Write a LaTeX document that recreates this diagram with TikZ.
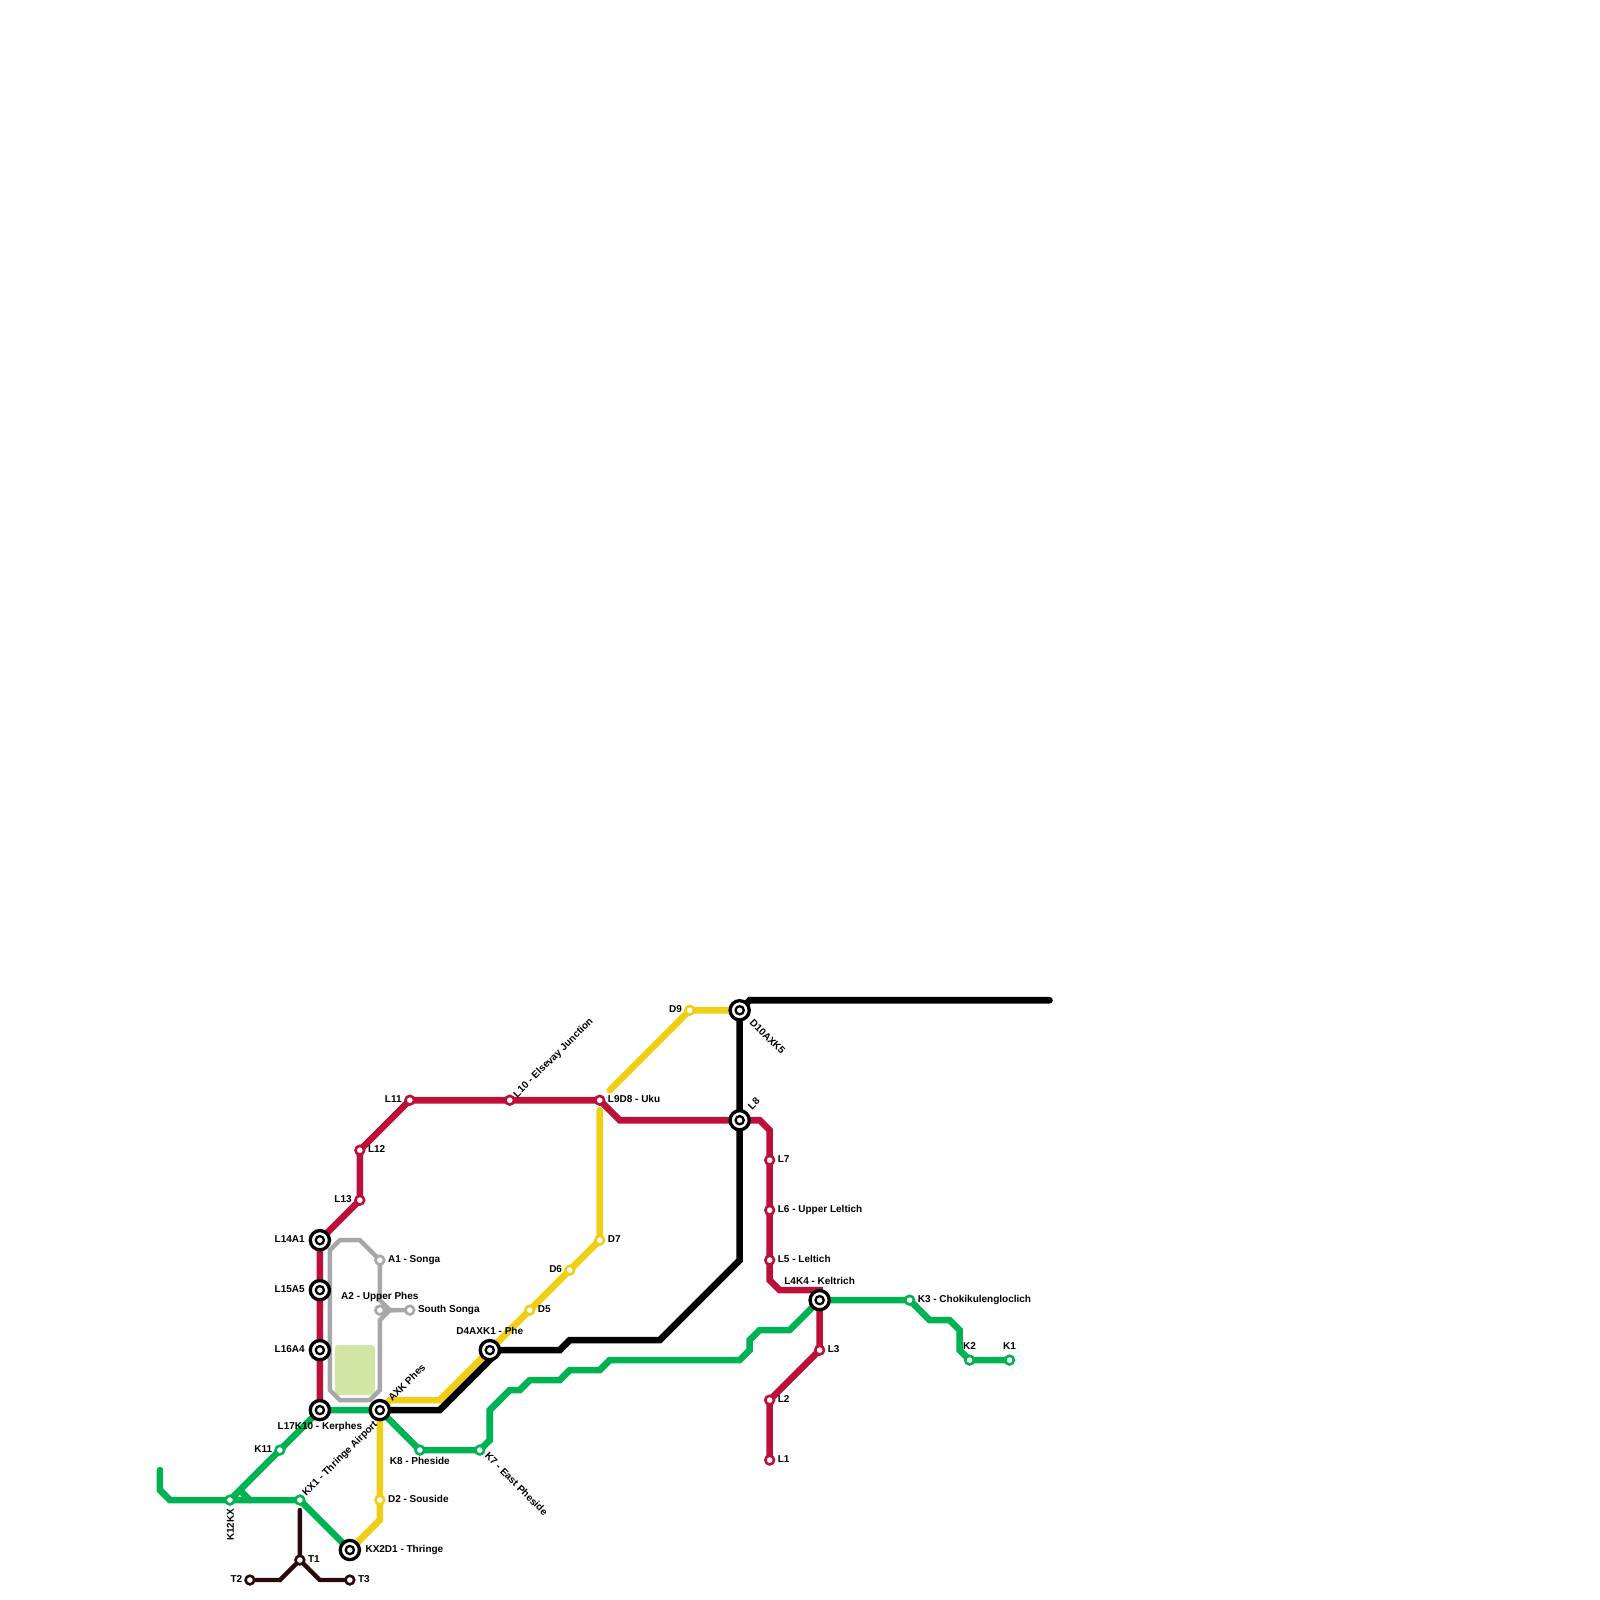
\documentclass[tikz,border=0pt]{standalone}
\usepackage{fontspec}
\setmainfont{Liberation Sans}
\usetikzlibrary{backgrounds}
\definecolor{linered}{HTML}{BD1038}
\definecolor{linegreen}{HTML}{00B251}
\definecolor{lineyellow}{HTML}{F0CE15}
\definecolor{linegrey}{HTML}{A7A7A7}
\definecolor{linebrown}{HTML}{2B0A0A}
\definecolor{parkgreen}{HTML}{D0E6A5}
\tikzset{
    halt/.style={circle,draw=#1,fill=white,line width=.26mm,minimum size=.87mm,inner sep=0pt},
    hub/.style={circle,draw=black,fill=white,line width=.33mm,minimum size=1.92mm,inner sep=0pt,
        path picture={\draw[black,line width=.23mm] (path picture bounding box.center) circle (.41mm);}},
    track/.style={line width=.66mm,line cap=round,line join=miter,#1},
    thintrack/.style={line width=.44mm,line cap=round,line join=miter,#1},
    stationname/.style={inner sep=0pt,yshift=.07mm,font=\bfseries\fontsize{2.845pt}{3.4pt}\selectfont,text=black},
}
\begin{document}
\begin{tikzpicture}[x=0.1mm,y=-0.1mm]
    \useasboundingbox (0,-0.7) rectangle (1600,1600);

    % Red line stations
    \node[halt=linered] (L1) at (770,1460) {};
    \node[halt=linered] (L2) at (770,1400) {};
    \node[halt=linered] (L3) at (820,1350) {};
    \node[hub] (L4K4) at (820,1300) {};
    \node[halt=linered] (L5) at (770,1260) {};
    \node[halt=linered] (L6) at (770,1210) {};
    \node[halt=linered] (L7) at (770,1160) {};
    \node[hub] (L8) at (740,1120) {};
    \node[halt=linered] (L9D8) at (600,1100) {};
    \node[halt=linered] (L10) at (510,1100) {};
    \node[halt=linered] (L11) at (410,1100) {};
    \node[halt=linered] (L12) at (360,1150) {};
    \node[halt=linered] (L13) at (360,1200) {};
    \node[hub] (L14A1) at (320,1240) {};
    \node[hub] (L15A5) at (320,1290) {};
    \node[hub] (L16A4) at (320,1350) {};
    \node[hub] (L17K10) at (320,1410) {};

    % Green line stations
    \node[halt=linegreen] (K1) at (1010,1360) {};
    \node[halt=linegreen] (K2) at (970,1360) {};
    \node[halt=linegreen] (K3) at (910,1300) {};
    \node[halt=linegreen] (K7) at (480,1450) {};
    \node[halt=linegreen] (K8) at (420,1450) {};
    \node[halt=linegreen] (K11) at (280,1450) {};
    \node[halt=linegreen] (K12KX) at (230,1500) {};
    \node[halt=linegreen] (KX1) at (300,1500) {};
    \node[hub] (KX2D1) at (350,1550) {};
    \node[hub] (AXK) at (380,1410) {};

    % Yellow and black line stations
    \node[hub] (D4AXK1) at (490,1350) {};
    \node[halt=lineyellow] (D2) at (380,1500) {};
    \node[halt=lineyellow] (D5) at (530,1310) {};
    \node[halt=lineyellow] (D6) at (570,1270) {};
    \node[halt=lineyellow] (D7) at (600,1240) {};
    \node[halt=lineyellow] (D9) at (690,1010) {};
    \node[hub] (D10AXK5) at (740,1010) {};

    % Grey line stations
    \node[halt=linegrey] (A1) at (380,1260) {};
    \node[halt=linegrey] (A2) at (380,1310) {};
    \node[halt=linegrey] (SouthSonga) at (410,1310) {};

    % Brown line stations
    \node[halt=linebrown] (T1) at (300,1560) {};
    \node[halt=linebrown] (T2) at (250,1580) {};
    \node[halt=linebrown] (T3) at (350,1580) {};

    % Free ends of the lines
    \coordinate (blackend) at (1050,1000);
    \coordinate (yellowend) at (610,1090);
    \coordinate (yellowstart) at (600,1110);
    \coordinate (greenend) at (160,1470);
    \coordinate (brownend) at (300,1510);

    \begin{scope}[on background layer]
        % Park
        \fill[parkgreen,rounded corners=.3mm] (335,1345) rectangle (375,1395);

        % Grey line
        \draw[thintrack=linegrey] (A1.center) -- ++(-20,-20) -- ++(-20,0) -- ++(-10,10) -- ++(0,140) -- ++(10,10) -- ++(30,0) -- ++(10,-10) -- ++(0,-70) -- ++(10,-10) -- (SouthSonga.center);
        \draw[thintrack=linegrey] (A1.center) -- ++(0,40) -- ++(10,10) -- (A2.center);

        % Brown line
        \draw[thintrack=linebrown] (brownend) -- (T1.center) -- ++(-20,20) -- (T2.center);
        \draw[thintrack=linebrown] (T1.center) -- ++(20,20) -- (T3.center);

        % Red line
        \draw[track=linered] (L1.center) -- (L2.center) -- (L3.center) -- (L4K4.center) -- ++(0,-10) -- ++(-40,0) -- ++(-10,-10) -- (L5.center) -- (L6.center) -- (L7.center) -- ++(0,-30) -- ++(-10,-10) -- (L8.center) -- ++(-120,0) -- (L9D8.center) -- (L10.center) -- (L11.center) -- (L12.center) -- (L13.center) -- (L14A1.center) -- (L15A5.center) -- (L16A4.center) -- (L17K10.center);

        % Yellow line
        \draw[track=lineyellow] (yellowend) -- (D9.center) -- (D10AXK5.center);
        \draw[track=lineyellow] (yellowstart) -- (D7.center) -- (D6.center) -- (D5.center) -- (D4AXK1.center) -- ++(-50,50) -- ++(-50,0) -- (AXK.center) -- (D2.center) -- ++(0,20) -- (KX2D1.center);

        % Green line
        \draw[track=linegreen] (K1.center) -- (K2.center) -- ++(-10,-10) -- ++(0,-20) -- ++(-10,-10) -- ++(-20,0) -- (K3.center) -- (L4K4.center) -- ++(-30,30) -- ++(-30,0) -- ++(-10,10) -- ++(0,10) -- ++(-10,10) -- ++(-130,0) -- ++(-10,10) -- ++(-30,0) -- ++(-10,10) -- ++(-30,0) -- ++(-10,10) -- ++(-10,0) -- ++(-20,20) -- ++(0,30) -- (K7.center) -- (K8.center) -- (AXK.center) -- (L17K10.center) -- (K11.center) -- (K12KX.center);
        \draw[track=linegreen] (greenend) -- ++(0,20) -- ++(10,10) -- (K12KX.center) -- (KX1.center) -- (KX2D1.center);
        \draw[track=linegreen] (K12KX.center) ++(10,-10) -- ++(10,10);

        % Black line
        \draw[track=black] (blackend) -- ++(-300,0) -- (D10AXK5.center) -- (L8.center) -- ++(0,140) -- ++(-80,80) -- ++(-90,0) -- ++(-10,10) -- (D4AXK1.center);
        \draw[track=black] (D4AXK1.center) ++(10,0) -- ++(-60,60) -- (AXK.center);
    \end{scope}

    % Labels on the right
    \node[stationname,anchor=base west] (tL1) at (777.5,1463) {L1};
    \node[stationname,anchor=base west] (tL2) at (777.5,1403) {L2};
    \node[stationname,anchor=base west] (tL3) at (827.5,1353) {L3};
    \node[stationname,anchor=base west] (tL5) at (777.5,1263) {L5 - Leltich};
    \node[stationname,anchor=base west] (tL6) at (777.5,1213) {L6 - Upper Leltich};
    \node[stationname,anchor=base west] (tL7) at (777.5,1163) {L7};
    \node[stationname,anchor=base west] (tL9D8) at (607.5,1103) {L9D8 - Uku};
    \node[stationname,anchor=base west] (tL12) at (367.5,1153) {L12};
    \node[stationname,anchor=base west] (tK3) at (917.5,1303) {K3 - Chokikulengloclich};
    \node[stationname,anchor=base west] (tKX2D1) at (365,1553) {KX2D1 - Thringe};
    \node[stationname,anchor=base west] (tD2) at (387.5,1503) {D2 - Souside};
    \node[stationname,anchor=base west] (tD5) at (537.5,1313) {D5};
    \node[stationname,anchor=base west] (tD7) at (607.5,1243) {D7};
    \node[stationname,anchor=base west] (tA1) at (387.5,1263) {A1 - Songa};
    \node[stationname,anchor=base west] (tSouthSonga) at (417.5,1313) {South Songa};
    \node[stationname,anchor=base west] (tT1) at (307.5,1563) {T1};
    \node[stationname,anchor=base west] (tT3) at (357.5,1583) {T3};

    % Labels on the left
    \node[stationname,anchor=base east] (tL11) at (402.5,1103) {L11};
    \node[stationname,anchor=base east] (tL13) at (352.5,1203) {L13};
    \node[stationname,anchor=base east] (tL14A1) at (305.5,1243) {L14A1};
    \node[stationname,anchor=base east] (tL15A5) at (305.5,1293) {L15A5};
    \node[stationname,anchor=base east] (tL16A4) at (305.5,1353) {L16A4};
    \node[stationname,anchor=base east] (tK11) at (273,1453) {K11};
    \node[stationname,anchor=base east] (tD6) at (563,1273) {D6};
    \node[stationname,anchor=base east] (tD9) at (683,1013) {D9};
    \node[stationname,anchor=base east] (tT2) at (243,1583) {T2};

    % Labels above and below
    \node[stationname,anchor=base] (tL4K4) at (820,1285) {L4K4 - Keltrich};
    \node[stationname,anchor=base] (tL17K10) at (320,1430) {L17K10 - Kerphes};
    \node[stationname,anchor=base] (tK1) at (1010,1350) {K1};
    \node[stationname,anchor=base] (tK2) at (970,1350) {K2};
    \node[stationname,anchor=base] (tK8) at (420,1465) {K8 - Pheside};
    \node[stationname,anchor=base] (tD4AXK1) at (490,1335) {D4AXK1 - Phe};
    \node[stationname,anchor=base] (tA2) at (380,1300) {A2 - Upper Phes};

    % Slanted labels
    \node[stationname,anchor=base west,rotate=45] (tL8) at (752,1111) {L8};
    \node[stationname,anchor=base west,rotate=45] (tL10) at (517,1099) {L10 - Elsevay Junction};
    \node[stationname,anchor=base west,rotate=45] (tAXK) at (392,1403) {AXK Phes};
    \node[stationname,anchor=base west,rotate=45] (tKX1) at (306,1497.5) {KX1 - Thringe Airport};
    \node[stationname,anchor=base west,rotate=-45] (tD10AXK5) at (749,1023) {D10AXK5};
    \node[stationname,anchor=base west,rotate=-45] (tK7) at (484,1457) {K7 - East Pheside};
    \node[stationname,anchor=base east,rotate=90] (tK12KX) at (234,1508.5) {K12KX};
\end{tikzpicture}
\end{document}
